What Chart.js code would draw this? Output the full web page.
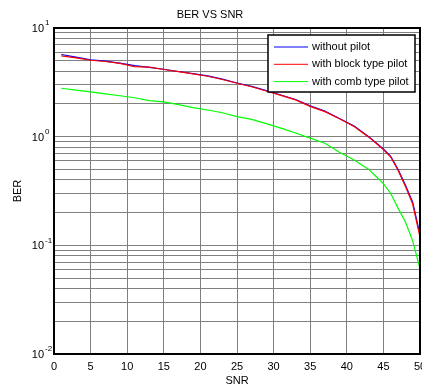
<!DOCTYPE html>
<html>
<head>
<meta charset="utf-8">
<title>BER VS SNR</title>
<script src="https://cdn.jsdelivr.net/npm/chart.js@4.4.0/dist/chart.umd.min.js"></script>
<style>
	html, body { margin: 0; padding: 0; background: #fff; }
	.chart-wrap { position: relative; width: 422px; height: 388px; }
</style>
</head>
<body>
<div class="chart-wrap"><canvas id="ber-chart" width="422" height="388"></canvas></div>
<script>
// values
const snr = [1, 3, 5, 7, 9, 11, 13, 15, 17, 19, 21, 23, 25, 27, 29, 31, 33, 35, 37, 39, 41, 43, 44, 45, 46, 47, 48, 49, 50];
const berNoPilot = [5.7, 5.4, 5.1, 4.95, 4.75, 4.5, 4.35, 4.17, 3.98, 3.8, 3.62, 3.38, 3.12, 2.9, 2.65, 2.42, 2.2, 1.92, 1.72, 1.47, 1.25, 1.0, 0.88, 0.77, 0.66, 0.5, 0.36, 0.25, 0.125];
const berBlockPilot = [5.55, 5.3, 5.05, 4.92, 4.72, 4.42, 4.36, 4.15, 3.96, 3.78, 3.6, 3.36, 3.1, 2.88, 2.63, 2.4, 2.18, 1.9, 1.7, 1.46, 1.24, 0.99, 0.87, 0.76, 0.65, 0.49, 0.35, 0.24, 0.119];
const berCombPilot = [2.79, 2.68, 2.58, 2.48, 2.38, 2.28, 2.15, 2.09, 1.97, 1.85, 1.76, 1.66, 1.53, 1.44, 1.32, 1.2, 1.08, 0.97, 0.87, 0.72, 0.61, 0.5, 0.43, 0.37, 0.3, 0.22, 0.165, 0.11, 0.061];
const yGridValues = [0.01, 0.02, 0.03, 0.04, 0.05, 0.06, 0.07, 0.08, 0.09,
	0.1, 0.2, 0.3, 0.4, 0.5, 0.6, 0.7, 0.8, 0.9,
	1, 2, 3, 4, 5, 6, 7, 8, 9, 10];
const yDecades = [0.01, 0.1, 1, 10];
const yDecadeExp = ['-2', '-1', '0', '1'];
const legendLabels = ['without pilot', 'with block type pilot', 'with comb type pilot'];
const lineColors = ['#0000ff', '#ff0000', '#00ff00'];

const FONT = "'Liberation Sans', Arial, sans-serif";

function toPoints(ys) {
	return snr.map((x, i) => ({ x: x, y: ys[i] }));
}

// box, decade labels with superscripts and the inset legend
const matlabDecor = {
	id: 'matlabDecor',
	afterDraw(chart) {
		const ctx = chart.ctx;
		const area = chart.chartArea;
		const yScale = chart.scales.y;
		ctx.save();

		// axes box
		ctx.strokeStyle = '#000';
		ctx.lineWidth = 2;
		ctx.strokeRect(area.left, area.top, area.right - area.left, area.bottom - area.top);

		// y decade labels: 10^k
		ctx.fillStyle = '#000';
		ctx.textBaseline = 'middle';
		yDecades.forEach((v, i) => {
			const y = yScale.getPixelForValue(v);
			ctx.font = '11px ' + FONT;
			ctx.textAlign = 'right';
			ctx.fillText('10', 44, y + 1);
			ctx.font = '8px ' + FONT;
			ctx.textAlign = 'left';
			ctx.fillText(yDecadeExp[i], 45, y - 5);
		});

		// legend
		const lx = 268, ly = 35, lw = 147, lh = 57;
		ctx.fillStyle = '#fff';
		ctx.fillRect(lx, ly, lw, lh);
		ctx.strokeStyle = '#000';
		ctx.lineWidth = 1.5;
		ctx.strokeRect(lx, ly, lw, lh);
		ctx.font = '11px ' + FONT;
		ctx.textAlign = 'left';
		ctx.textBaseline = 'middle';
		legendLabels.forEach((txt, i) => {
			const rowY = ly + 12 + i * 17.3;
			ctx.strokeStyle = lineColors[i];
			ctx.lineWidth = 1;
			ctx.beginPath();
			ctx.moveTo(274, rowY);
			ctx.lineTo(308, rowY);
			ctx.stroke();
			ctx.fillStyle = '#000';
			ctx.fillText(txt, 312, rowY);
		});
		ctx.restore();
	}
};

new Chart(document.getElementById('ber-chart'), {
	type: 'line',
	data: {
		datasets: [
			{ label: legendLabels[0], data: toPoints(berNoPilot), borderColor: lineColors[0], order: 3 },
			{ label: legendLabels[1], data: toPoints(berBlockPilot), borderColor: lineColors[1], order: 2 },
			{ label: legendLabels[2], data: toPoints(berCombPilot), borderColor: lineColors[2], order: 1 }
		]
	},
	options: {
		responsive: false,
		animation: false,
		layout: { padding: { left: 0, right: 2, top: 0, bottom: 0 } },
		elements: {
			line: { borderWidth: 1.2, tension: 0 },
			point: { radius: 0 }
		},
		plugins: {
			legend: { display: false },
			tooltip: { enabled: false },
			title: {
				display: true,
				text: 'BER VS SNR',
				color: '#000',
				font: { family: FONT, size: 11, weight: 'normal' },
				padding: { top: 8, bottom: 6.8 }
			}
		},
		scales: {
			x: {
				type: 'linear',
				min: 0,
				max: 50,
				ticks: {
					stepSize: 5,
					color: '#000',
					padding: 6,
					maxRotation: 0,
					font: { family: FONT, size: 11 }
				},
				grid: { color: '#808080', lineWidth: 1, drawTicks: false },
				border: { display: false },
				title: {
					display: true,
					text: 'SNR',
					color: '#000',
					font: { family: FONT, size: 11 },
					padding: { top: 0, bottom: 0 }
				},
				afterFit(scale) {
					scale.height = 34;
					scale.paddingLeft = 0;
					scale.paddingRight = 0;
				}
			},
			y: {
				type: 'logarithmic',
				min: 0.01,
				max: 10,
				afterBuildTicks(scale) {
					scale.ticks = yGridValues.map(v => ({ value: v }));
				},
				ticks: { display: false },
				grid: { color: '#808080', lineWidth: 1, drawTicks: false },
				border: { display: false },
				title: {
					display: true,
					text: 'BER',
					color: '#000',
					font: { family: FONT, size: 11 },
					padding: { top: 11, bottom: 0 }
				},
				afterFit(scale) {
					scale.width = 54;
				}
			}
		}
	},
	plugins: [matlabDecor]
});
</script>
</body>
</html>
